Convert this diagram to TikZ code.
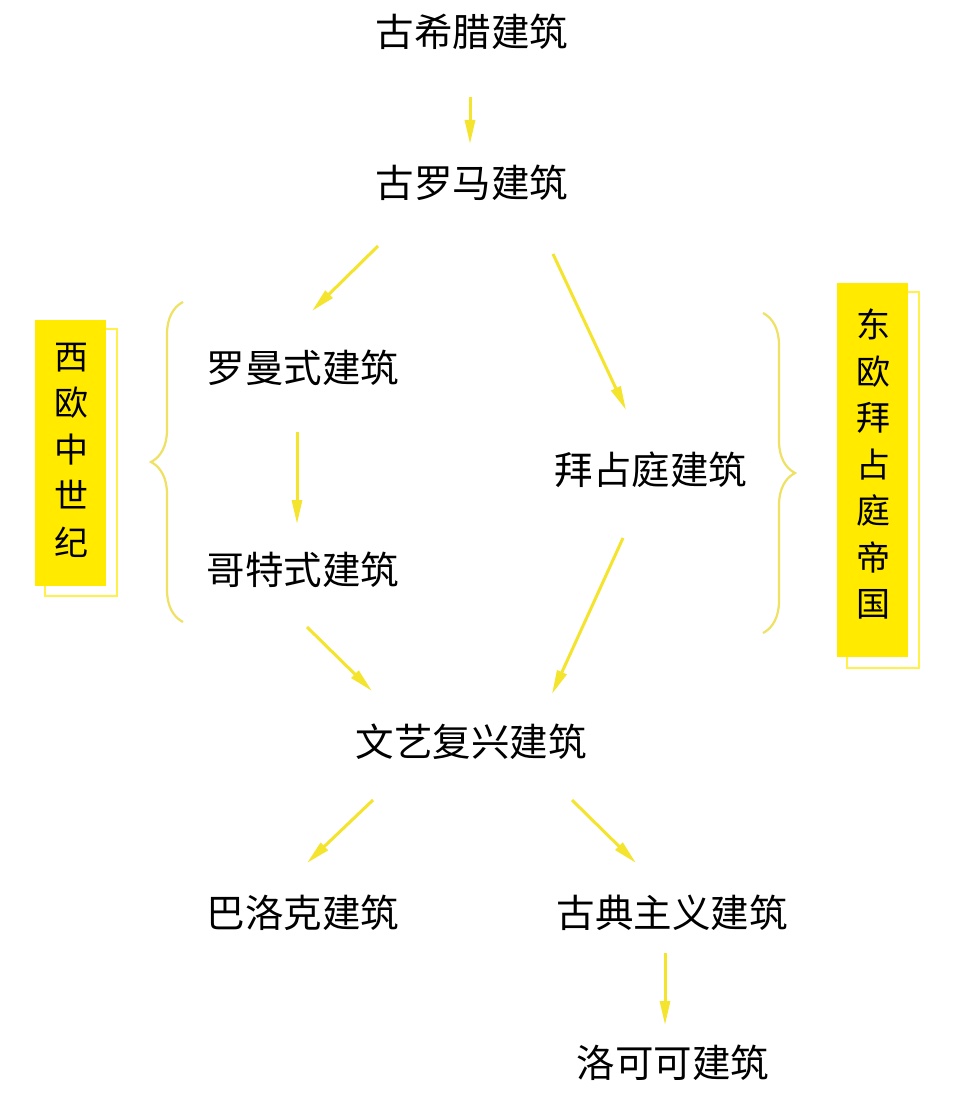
\documentclass[tikz,border=0pt]{standalone}
\usepackage{fontspec}
\newfontfamily\cjk{Noto Sans CJK SC}
\usetikzlibrary{arrows.meta,decorations.pathreplacing}
\definecolor{arrowyellow}{RGB}{245,228,45}
\definecolor{boxyellow}{RGB}{255,234,0}
\definecolor{braceyellow}{RGB}{238,225,100}
\begin{document}
\begin{tikzpicture}[x=1pt,y=-1pt,
  era/.style={font=\cjk\fontsize{38.5}{42}\selectfont,inner sep=0pt},
  flow/.style={arrowyellow,line width=3pt,-{Triangle[length=24pt,width=10pt]}},
  period/.style={font=\cjk\fontsize{34}{46.5}\selectfont,align=center,inner sep=0pt},
  grouping/.style={braceyellow,line width=2.2pt,decorate,decoration={brace,amplitude=32pt,aspect=0.5}}]
\useasboundingbox[fill=white] (0,0) rectangle (954,1094);

% Styles of architecture
\node[era] (greek) at (472,32) {古希腊建筑};
\node[era] (roman) at (472,183) {古罗马建筑};
\node[era] (romanesque) at (303,368) {罗曼式建筑};
\node[era] (gothic) at (303,570) {哥特式建筑};
\node[era] (byzantine) at (651,470) {拜占庭建筑};
\node[era] (renaissance) at (471,742) {文艺复兴建筑};
\node[era] (baroque) at (303,913) {巴洛克建筑};
\node[era] (classicism) at (672,913) {古典主义建筑};
\node[era] (rococo) at (673,1063) {洛可可建筑};

% Arrow end points
\coordinate (a1) at (470,97);   \coordinate (b1) at (470,144);
\coordinate (a2) at (378,246);  \coordinate (b2) at (312,311);
\coordinate (a3) at (553,254);  \coordinate (b3) at (626,410);
\coordinate (a4) at (297,432);  \coordinate (b4) at (297,524);
\coordinate (a5) at (307,627);  \coordinate (b5) at (372,691);
\coordinate (a6) at (623,538);  \coordinate (b6) at (552,694);
\coordinate (a7) at (373,800);  \coordinate (b7) at (307,863);
\coordinate (a8) at (572,800);  \coordinate (b8) at (636,863);
\coordinate (a9) at (665,953);  \coordinate (b9) at (665,1025);

% Construct the arrows
\foreach \i in {1,...,9}
  \draw[flow] (a\i) -- (b\i);

% Braces round the two branches
\coordinate (LT) at (183,302);
\coordinate (LB) at (183,622);
\draw[grouping] (LB) -- (LT);
\coordinate (RT) at (763,313);
\coordinate (RB) at (763,633);
\draw[grouping] (RT) -- (RB);

% Period labels
\draw[boxyellow!70,line width=1.5pt] (45,329) rectangle (117,596);
\fill[boxyellow] (35,320) rectangle (106,586);
\node[period] (west) at (71,450) {西\\欧\\中\\世\\纪};
\draw[boxyellow!70,line width=1.5pt] (847,292) rectangle (919,668);
\fill[boxyellow] (837,283) rectangle (908,657);
\node[period] (east) at (873,464) {东\\欧\\拜\\占\\庭\\帝\\国};

\end{tikzpicture}
\end{document}
